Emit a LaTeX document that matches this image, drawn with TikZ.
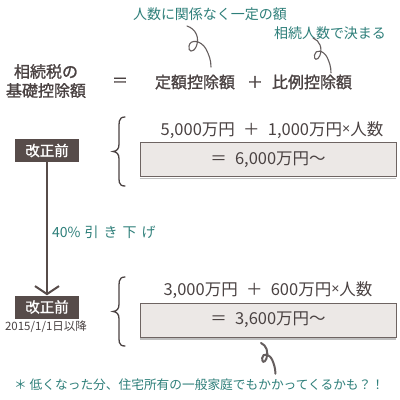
\documentclass[tikz,border=0pt]{standalone}
\usepackage{fontspec}
\setmainfont{Noto Sans CJK JP}
\newfontfamily\jpbold[FakeBold=1.2]{Noto Sans CJK JP}
\newfontfamily\latinf{Liberation Sans}
\usetikzlibrary{arrows.meta}
\definecolor{tealc}{HTML}{2E7F7A}
\definecolor{ink}{HTML}{4A4242}
\definecolor{darkbox}{HTML}{574C4A}
\definecolor{grayfill}{HTML}{ECE8E6}
\definecolor{grayedge}{HTML}{6E6462}
\tikzset{
  note/.style={text=tealc, font=\fontsize{14}{16}\selectfont, inner sep=0pt},
  lbl/.style={text=ink, font=\jpbold\fontsize{16}{19}\selectfont, inner sep=0pt},
  formula/.style={text=ink, font=\fontsize{16.5}{19}\selectfont, inner sep=0pt},
  tagbox/.style={fill=darkbox, text=white, font=\jpbold\fontsize{14.5}{16}\selectfont, minimum width=64pt, minimum height=23pt, inner sep=0pt},
  resbox/.style={fill=grayfill, draw=grayedge, line width=0.8pt, minimum width=256pt, minimum height=34pt, text=ink, font=\fontsize{16.5}{19}\selectfont, inner sep=0pt},
  squig/.style={draw=ink!85, line width=1.1pt, line cap=round},
  bracestyle/.style={draw=ink, line width=1.3pt, line cap=round},
  arrowline/.style={draw=darkbox, line width=2pt, -{Straight Barb[length=8pt,width=24pt]}},
}
\newcommand{\squigglepath}{(0,0) .. controls (9,3) and (13,12) .. (9,21) .. controls (6,27) and (1,26) .. (2,20) .. controls (3,13) and (14,14) .. (19,23) .. controls (22,29) and (24,34) .. (24,41)}
\newcommand{\timesx}{\raisebox{1.5pt}{\latinf\fontsize{14}{15}\selectfont ×}}
\begin{document}
\begin{tikzpicture}[x=1pt,y=-1pt]
\useasboundingbox (0,0) rectangle (400,400);
\fill[white] (0,0) rectangle (400,400);

% header
\node[note] (t1) at (210,14) {人数に関係なく一定の額};
\node[note] (t2) at (330,33) {相続人数で決まる};
\node[lbl, align=center] (lb) at (46,81) {相続税の\\基礎控除額};
\node[lbl] (eq) at (120,82) {＝};
\node[lbl] (fix) at (195,82) {定額控除額};
\node[lbl] (plus) at (255,82) {＋};
\node[lbl] (prop) at (312,82) {比例控除額};

% squiggles
\begin{scope}[shift={(187,26)}]
  \draw[squig] \squigglepath;
\end{scope}
\begin{scope}[shift={(313,38)}, xscale=0.75, yscale=0.85]
  \draw[squig] \squigglepath;
\end{scope}
\begin{scope}[shift={(261,343)}, xscale=0.6, yscale=0.75]
  \draw[squig, line width=2pt] \squigglepath;
\end{scope}

% first block
\node[tagbox] (b1) at (47,150.5) {改正前};
\node[formula] (f1) at (272,130) {5,000万円\enspace＋\enspace1,000万円\timesx 人数};
\node[resbox] (r1) at (268,159.5) {＝\enspace6,000万円〜};
\draw[black!25, line width=1.5pt] ([yshift=-1.6pt]r1.south west) -- ([yshift=-1.6pt]r1.south east);
\draw[bracestyle] (125,117) .. controls (118,117) and (119,123) .. (119,131) -- (119,144) .. controls (119,149) and (117,151) .. (113,151.5) .. controls (117,152) and (119,154) .. (119,159) -- (119,173) .. controls (119,181) and (118,186) .. (125,186);

% arrow
\node[tagbox] (b2) at (47,307) {改正前};
\draw[arrowline] (b1.south) -- (b2.north);
\node[note, anchor=west, font=\fontsize{14}{16}\selectfont] (cut) at (52,232) {40\%\hspace{4pt}引\hspace{5pt}き\hspace{5pt}下\hspace{5pt}げ};
\node[text=ink, font=\fontsize{11.5}{13}\selectfont, inner sep=0pt] (date) at (46,327) {2015/1/1日以降};

% second block
\node[formula] (f2) at (268,290) {3,000万円\enspace＋\enspace600万円\timesx 人数};
\node[resbox] (r2) at (268,320) {＝\enspace3,600万円〜};
\draw[black!25, line width=1.5pt] ([yshift=-1.6pt]r2.south west) -- ([yshift=-1.6pt]r2.south east);
\draw[bracestyle] (125,277) .. controls (118,277) and (119,283) .. (119,291) -- (119,304) .. controls (119,309) and (117,311) .. (113,311.5) .. controls (117,312) and (119,314) .. (119,319) -- (119,333) .. controls (119,341) and (118,346) .. (125,346);

% note
\node[note, anchor=west, font=\fontsize{12.7}{15}\selectfont] (nt) at (14,385) {＊ 低くなった分、住宅所有の一般家庭でもかかってくるかも？！};
\end{tikzpicture}
\end{document}
